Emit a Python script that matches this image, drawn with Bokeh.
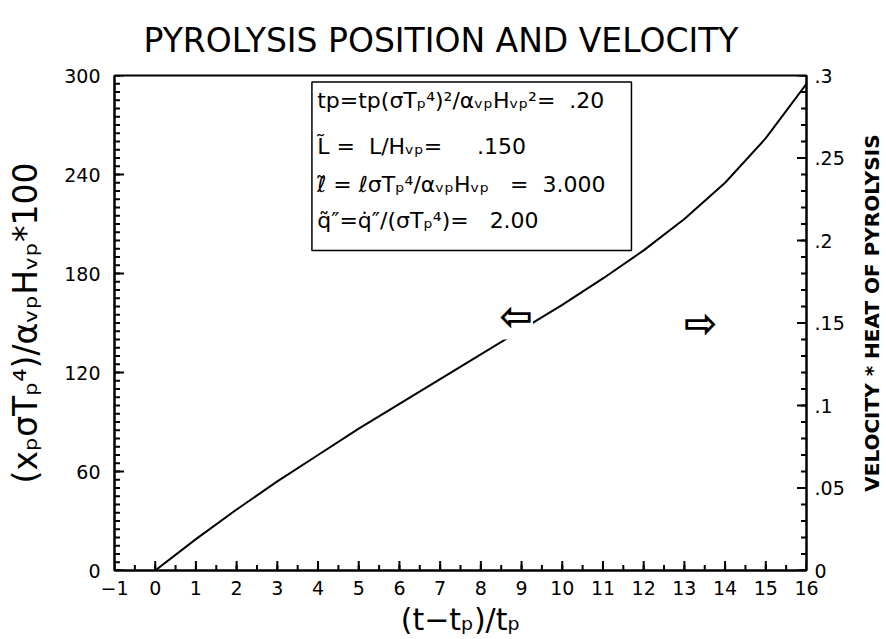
from math import pi

from bokeh.core.properties import value
from bokeh.embed import file_html
from bokeh.layouts import row
from bokeh.models import BoxAnnotation, FixedTicker, Label, LinearAxis, Range1d
from bokeh.plotting import figure
from bokeh.resources import INLINE

# Dimensionless time since ignition and the pyrolysis front position (x100)
time_ratio = [0, 1, 2, 3, 4, 5, 6, 7, 8, 9, 10, 11, 12, 13, 14, 15, 16]
front_position = [0, 19, 37, 54, 70, 86, 101, 116, 131, 146, 161, 177, 194, 213, 235, 262, 295]

# Axis ranges, ticks and tick labels
time_limits = (-1, 16)
position_limits = (0, 300)
velocity_limits = (0, 0.3)
time_ticks = list(range(-1, 17))
position_ticks = [0, 60, 120, 180, 240, 300]
velocity_ticks = [0, 0.05, 0.1, 0.15, 0.2, 0.25, 0.3]
velocity_tick_labels = ["0", ".05", ".1", ".15", ".2", ".25", ".3"]

# Problem parameters listed in the inset box
tp_tilde = 0.20
L_tilde = 0.150
l_tilde = 3.000
q_tilde = 2.00

FONT = "DejaVu Sans"
SP = "\u00a0"  # non-collapsing space for the inset text

p = figure(
    width=856, height=639,
    x_range=Range1d(*time_limits), y_range=Range1d(*position_limits),
    x_axis_type=None, y_axis_type=None,
    output_backend="svg", toolbar_location=None,
    min_border_left=114, min_border_right=50,
    min_border_top=75, min_border_bottom=69,
)
p.background_fill_color = "white"
p.border_fill_color = "white"
p.outline_line_color = "black"
p.outline_line_width = 2

p.title.text = "PYROLYSIS POSITION AND VELOCITY"
p.title.align = "left"
p.title.offset = 29
p.title.text_font = FONT
p.title.text_font_style = "normal"
p.title.text_font_size = "33px"
p.title.text_color = "black"
p.title.standoff = 31

p.extra_y_ranges = {"velocity": Range1d(*velocity_limits)}

xa = LinearAxis(ticker=FixedTicker(ticks=time_ticks))
ya = LinearAxis(ticker=FixedTicker(ticks=position_ticks))
right_axis = LinearAxis(y_range_name="velocity", ticker=FixedTicker(ticks=velocity_ticks))
p.add_layout(xa, "below")
p.add_layout(ya, "left")
p.add_layout(right_axis, "right")

xa.major_label_overrides = {-1: "\u22121"}
right_axis.major_label_overrides = dict(zip(velocity_ticks, velocity_tick_labels))

for ax in (xa, ya, right_axis):
    ax.axis_line_width = 2
    ax.axis_line_color = "black"
    ax.major_tick_in = 0
    ax.major_tick_out = 0
    ax.minor_tick_line_color = None
    ax.major_label_text_font = FONT
    ax.major_label_text_font_size = "19px"
    ax.major_label_text_color = "black"
    ax.axis_label_text_font = FONT
    ax.axis_label_text_font_style = "normal"
    ax.axis_label_text_color = "black"

xa.major_label_standoff = 10
ya.major_label_standoff = 14
right_axis.major_label_standoff = 8

xa.axis_label = "(t\u2212t\u209a)/t\u209a"
xa.axis_label_text_font_size = "30px"
xa.axis_label_standoff = 4

ya.axis_label = "(x\u209a\u03c3T\u209a\u2074)/\u03b1\u1d65\u209aH\u1d65\u209a*100"
ya.axis_label_text_font_size = "33px"
ya.axis_label_standoff = 16

# Inward tick marks along the frame, drawn as segments from the frame edge
time_fine = [(2 * time_limits[0] + k) / 2 for k in range(2 * (time_limits[1] - time_limits[0]) + 1)]
position_fine = list(range(position_limits[0], position_limits[1] + 1, 5))
velocity_fine = [k / 100 for k in range(0, 31)]

x_span = time_limits[1] - time_limits[0]
y_span = position_limits[1] - position_limits[0]
v_scale = y_span / (velocity_limits[1] - velocity_limits[0])
major_len, minor_len = 0.019, 0.011  # tick length as a fraction of each axis span


def ticks_bottom(xs, frac):
    y0 = position_limits[0]
    p.segment(x0=xs, y0=[y0] * len(xs), x1=xs, y1=[y0 + frac * y_span] * len(xs),
              line_color="black", line_width=2)


def ticks_side(ys, frac, x_edge, direction):
    x1 = x_edge + direction * frac * x_span * 0.72
    p.segment(x0=[x_edge] * len(ys), y0=ys, x1=[x1] * len(ys), y1=ys,
              line_color="black", line_width=2)


ticks_bottom(time_fine, minor_len)
ticks_bottom(time_ticks, major_len)
ticks_side(position_fine, minor_len, time_limits[0], 1)
ticks_side(position_ticks, major_len, time_limits[0], 1)
ticks_side([v * v_scale for v in velocity_fine], minor_len, time_limits[1], -1)
ticks_side([v * v_scale for v in velocity_ticks], major_len, time_limits[1], -1)

# Pyrolysis front position
p.line(time_ratio, front_position, line_color="black", line_width=2)

# Arrows pointing to the axis each quantity belongs to
p.add_layout(Label(x=8.87, y=154, text="\u21e6", text_font=FONT, text_font_size="40px",
                   text_font_style="bold", text_align="center", text_baseline="middle",
                   text_color="black", background_fill_color="white"))
p.add_layout(Label(x=13.4, y=150, text="\u21e8", text_font=FONT, text_font_size="40px",
                   text_font_style="bold", text_align="center", text_baseline="middle",
                   text_color="black"))

# Inset box with the problem parameters
p.add_layout(BoxAnnotation(left=3.85, right=11.7, bottom=194, top=296,
                           fill_color="white", fill_alpha=1.0,
                           line_color="black", line_alpha=1.0, line_width=1.5))


def short(v, fmt):
    return format(v, fmt).lstrip("0")


param_lines = [
    f"tp=tp(\u03c3T\u209a\u2074)\u00b2/\u03b1\u1d65\u209aH\u1d65\u209a\u00b2={SP*2}{short(tp_tilde, '.2f')}",
    f"L\u0303{SP}={SP}{SP}L/H\u1d65\u209a={SP*5}{short(L_tilde, '.3f')}",
    f"\u2113\u0303{SP}={SP}\u2113\u03c3T\u209a\u2074/\u03b1\u1d65\u209aH\u1d65\u209a{SP*3}={SP*2}{l_tilde:.3f}",
    f"q\u0303\u2033=q\u0307\u2033/(\u03c3T\u209a\u2074)={SP*3}{q_tilde:.2f}",
]
line_y = [285, 257, 234, 212]
for txt, yy in zip(param_lines, line_y):
    p.add_layout(Label(x=3.98, y=yy, text=txt, text_font=FONT, text_font_size="22px",
                       text_align="left", text_baseline="middle", text_color="black"))

# Narrow strip on the right carrying the velocity axis title, read bottom to top
side = figure(
    width=30, height=639, x_range=Range1d(0, 1), y_range=Range1d(0, 1),
    x_axis_type=None, y_axis_type=None,
    output_backend="svg", toolbar_location=None, min_border=0,
)
side.outline_line_color = None
side.background_fill_color = "white"
side.border_fill_color = "white"
side.text(x=[0.5], y=[0.52], text=["VELOCITY * HEAT OF PYROLYSIS"], angle=pi / 2,
          text_align="center", text_baseline="middle", text_color="black",
          text_font=value(FONT), text_font_size="20px", text_font_style="bold")

layout = row(p, side, spacing=0)
open("out.html", "w").write(file_html(layout, INLINE))
